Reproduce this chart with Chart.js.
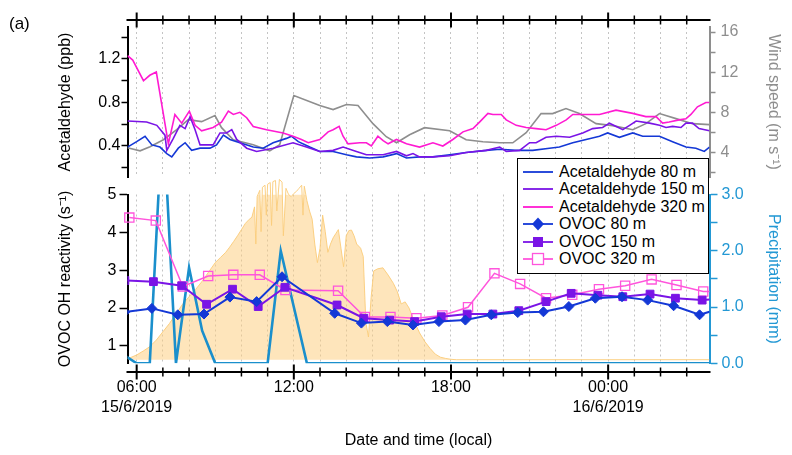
<!DOCTYPE html>
<html>
<head>
<meta charset="utf-8">
<script src="https://cdn.jsdelivr.net/npm/chart.js@4.4.1/dist/chart.umd.min.js"></script>
<style>
  body { margin: 0; background: #fff; }
  #wrap { position: relative; width: 792px; height: 455px; font-family: "Liberation Sans", Arial, sans-serif; }
  .layer { position: absolute; left: 0; top: 0; width: 792px; height: 455px; }
  #tag { position: absolute; left: 9px; top: 14px; font-size: 17px; }
  #legend { position: absolute; left: 517px; top: 158px; width: 190px; height: 110px; border: 1.5px solid #000;
            background: #fff; padding-top: 4px; box-sizing: content-box; }
  .row { height: 17.5px; display: flex; align-items: center; font-size: 16px; white-space: nowrap; }
  .row svg { margin-left: 5px; margin-right: 6px; }
</style>
</head>
<body>
<div id="wrap">
  <div class="layer"><canvas id="top"></canvas></div>
  <div class="layer"><canvas id="bottom"></canvas></div>
  <div id="tag">(a)</div>
  <div id="legend"></div>
</div>
<script>
// time is in hours from 00:00 on 15/6/2019
const xMin = 5.65, xMax = 27.87;
const hourTicks = [6, 7, 8, 9, 10, 11, 12, 13, 14, 15, 16, 17, 18, 19, 20, 21, 22, 23, 24, 25, 26, 27];
const timeLabels = { 6: ['06:00', '15/6/2019'], 12: '12:00', 18: '18:00', 24: ['00:00', '16/6/2019'] };

// tick positions (labels only on the major ones)
const acetTicks = [0.2, 0.4, 0.6, 0.8, 1.0, 1.2, 1.4];
const windTicks = [2, 4, 6, 8, 10, 12, 14, 16];
const ovocTicks = [1, 2, 3, 4, 5];
const rainTicks = [0, 0.5, 1.0, 1.5, 2.0, 2.5, 3.0];

// acetaldehyde (ppb), upper panel
const acet80T = [5.65, 6.00, 6.32, 6.58, 6.89, 7.15, 7.34, 7.59, 7.85, 8.10,
  8.42, 8.80, 9.05, 9.31, 9.56, 9.94, 10.45, 10.83, 11.21, 11.72,
  11.91, 12.17, 12.61, 12.99, 13.50, 14.01, 14.39, 14.90, 15.41, 15.92,
  16.30, 16.80, 17.31, 17.95, 18.58, 19.35, 19.86, 20.49, 21.12, 21.76,
  22.14, 22.65, 23.16, 23.67, 23.98, 24.43, 24.94, 25.32, 25.96, 26.46,
  26.97, 27.35, 27.67, 27.87];
const acet80 = [0.39, 0.44, 0.49, 0.41, 0.39, 0.33, 0.30, 0.38, 0.43, 0.36,
  0.38, 0.38, 0.41, 0.50, 0.46, 0.43, 0.39, 0.38, 0.43, 0.47,
  0.49, 0.44, 0.39, 0.35, 0.35, 0.32, 0.30, 0.29, 0.30, 0.33,
  0.29, 0.30, 0.30, 0.32, 0.34, 0.36, 0.37, 0.36, 0.36, 0.38,
  0.39, 0.43, 0.46, 0.49, 0.52, 0.48, 0.52, 0.49, 0.49, 0.44,
  0.39, 0.38, 0.35, 0.39];

const acet150T = [5.65, 6.38, 6.77, 7.08, 7.15, 7.40, 7.65, 7.85, 8.04, 8.23,
  8.42, 8.92, 9.18, 9.43, 9.63, 9.82, 10.20, 10.58, 11.21, 11.97,
  12.48, 12.99, 13.50, 13.88, 14.39, 14.77, 15.41, 15.92, 16.30, 16.55,
  16.80, 17.31, 17.95, 18.58, 19.35, 19.86, 20.11, 20.62, 21.00, 21.25,
  21.63, 22.02, 22.53, 23.03, 23.41, 23.79, 24.05, 24.31, 24.56, 24.82,
  25.07, 25.58, 25.96, 26.21, 26.46, 26.78, 26.97, 27.22, 27.47, 27.87];
const acet150 = [0.63, 0.62, 0.59, 0.50, 0.36, 0.47, 0.59, 0.56, 0.67, 0.55,
  0.41, 0.41, 0.52, 0.52, 0.55, 0.46, 0.38, 0.35, 0.38, 0.43,
  0.39, 0.35, 0.36, 0.39, 0.35, 0.32, 0.32, 0.35, 0.31, 0.33,
  0.30, 0.30, 0.31, 0.34, 0.36, 0.39, 0.35, 0.36, 0.43, 0.43,
  0.48, 0.49, 0.48, 0.52, 0.56, 0.57, 0.61, 0.58, 0.55, 0.59,
  0.63, 0.61, 0.59, 0.57, 0.58, 0.57, 0.61, 0.61, 0.56, 0.54];

const acet320T = [5.65, 5.85, 6.26, 6.50, 6.75, 7.21, 7.46, 7.72, 8.01, 8.23,
  8.48, 8.92, 9.24, 9.50, 9.69, 9.94, 10.20, 10.45, 10.96, 11.59,
  11.97, 12.29, 12.55, 12.99, 13.31, 13.50, 13.73, 13.88, 14.07, 14.52,
  14.77, 14.96, 15.21, 15.41, 15.60, 15.92, 16.30, 16.80, 17.31, 17.69,
  18.07, 18.46, 18.84, 19.09, 19.41, 19.60, 19.92, 20.11, 20.49, 20.87,
  21.25, 21.63, 22.02, 22.40, 22.65, 23.16, 23.67, 24.30, 24.94, 25.44,
  25.83, 26.08, 26.33, 26.71, 26.97, 27.16, 27.41, 27.73, 27.87];
const acet320 = [1.23, 1.19, 1.00, 1.05, 1.08, 0.42, 0.69, 0.61, 0.72, 0.59,
  0.54, 0.57, 0.62, 0.72, 0.69, 0.71, 0.66, 0.58, 0.55, 0.52,
  0.49, 0.46, 0.43, 0.46, 0.53, 0.55, 0.58, 0.49, 0.42, 0.43,
  0.43, 0.40, 0.49, 0.45, 0.42, 0.46, 0.42, 0.39, 0.43, 0.40,
  0.46, 0.53, 0.56, 0.62, 0.70, 0.69, 0.69, 0.64, 0.59, 0.57,
  0.56, 0.55, 0.59, 0.64, 0.69, 0.69, 0.69, 0.73, 0.70, 0.67,
  0.67, 0.61, 0.62, 0.64, 0.65, 0.69, 0.76, 0.80, 0.80];

// wind speed (m/s)
const windT = [5.65, 6.13, 6.51, 7.02, 7.53, 7.97, 8.48, 8.99, 9.24, 9.69,
  10.45, 11.08, 11.46, 12.00, 12.99, 13.50, 14.01, 14.45, 15.02, 15.53,
  15.92, 16.42, 16.99, 17.95, 18.58, 19.22, 19.86, 20.36, 20.87, 21.44,
  21.88, 22.39, 22.90, 23.54, 24.17, 24.94, 25.44, 25.96, 26.59, 27.22,
  27.87];
const wind = [4.5, 4.2, 4.6, 5.3, 6.3, 7.3, 7.1, 7.7, 6.5, 5.3,
  4.8, 4.2, 4.8, 9.7, 8.7, 8.3, 8.8, 8.7, 6.9, 5.6,
  5.0, 5.8, 6.5, 6.2, 5.3, 5.1, 5.0, 5.0, 6.0, 7.9,
  7.9, 8.4, 7.9, 6.9, 6.7, 6.3, 6.9, 7.9, 7.4, 6.9,
  6.8];

// OVOC OH reactivity (1/s), lower panel
const ovoc80T = [5.54, 6.58, 7.57, 8.57, 9.56, 10.58, 11.55, 13.56, 14.58, 15.57, 16.55, 17.54,
  18.55, 19.54, 20.55, 21.53, 22.50, 23.51, 24.53, 25.51, 26.50, 27.49, 28.49];
const ovoc80 = [1.89, 1.99, 1.82, 1.84, 2.29, 2.17, 2.83, 1.86, 1.60, 1.64, 1.55, 1.64,
  1.68, 1.82, 1.88, 1.90, 2.04, 2.26, 2.30, 2.21, 2.06, 1.82, 2.03];
const ovoc150T = [5.55, 6.64, 7.72, 8.67, 9.66, 10.64, 11.66, 13.65, 14.67, 15.66, 16.61, 17.63,
  18.62, 19.60, 20.59, 21.63, 22.59, 23.61, 24.56, 25.60, 26.57, 27.59, 28.59];
const ovoc150 = [2.73, 2.70, 2.59, 2.10, 2.50, 2.04, 2.55, 2.08, 1.73, 1.68, 1.64, 1.77,
  1.84, 1.84, 1.93, 2.17, 2.39, 2.34, 2.30, 2.37, 2.26, 2.21, 2.27];
const ovoc320T = [5.72, 6.73, 7.76, 8.73, 9.69, 10.70, 11.68, 13.69, 14.71, 15.69, 16.68, 17.67,
  18.65, 19.66, 20.64, 21.63, 22.63, 23.65, 24.65, 25.66, 26.61, 27.63, 28.63];
const ovoc320 = [4.40, 4.32, 2.57, 2.85, 2.88, 2.88, 2.48, 2.46, 1.76, 1.76, 1.73, 1.80,
  2.02, 2.92, 2.64, 2.26, 2.35, 2.50, 2.59, 2.76, 2.61, 2.44, 2.44];

// precipitation (mm)
const precipT = [5.5, 6.0, 6.5, 7.0, 7.5, 8.0, 8.5, 9.0, 11.0, 11.5, 12.0, 12.5, 28.0];
const precip = [0.15, 0, 0, 4.5, 0, 1.7, 0.58, 0, 0, 2.0, 1.0, 0, 0];

// solar radiation (shaded, no axis shown)
const radT = [5.65, 5.80, 6.00, 6.25, 6.50, 6.75, 7.00, 7.25, 7.50, 7.75,
  8.00, 8.25, 8.50, 8.75, 9.00, 9.20, 9.40, 9.55, 9.70, 9.85,
  10.00, 10.15, 10.30, 10.40, 10.50, 10.55, 10.60, 10.70, 10.75, 10.80,
  10.90, 10.95, 11.00, 11.10, 11.15, 11.20, 11.30, 11.35, 11.45, 11.55,
  11.60, 11.70, 11.80, 11.90, 12.00, 12.10, 12.20, 12.30, 12.35, 12.40,
  12.50, 12.60, 12.70, 12.80, 12.90, 13.00, 13.10, 13.20, 13.30, 13.40,
  13.50, 13.60, 13.70, 13.80, 13.90, 14.00, 14.10, 14.20, 14.30, 14.40,
  14.55, 14.65, 14.75, 14.85, 14.95, 15.05, 15.20, 15.40, 15.60, 15.80,
  15.95, 16.10, 16.25, 16.40, 16.60, 16.80, 17.00, 17.20, 17.40, 17.60,
  17.80, 18.00, 18.20, 27.87];
const rad = [5, 12, 23, 42, 63, 95, 135, 175, 222, 268,
  305, 340, 380, 425, 470, 495, 520, 545, 572, 600,
  630, 660, 680, 690, 740, 560, 790, 820, 620, 835,
  845, 700, 850, 858, 650, 862, 868, 720, 873, 860,
  600, 830, 800, 790, 805, 815, 830, 845, 700, 840,
  770, 720, 680, 560, 470, 540, 700, 620, 520, 560,
  590, 610, 630, 540, 450, 600, 625, 628, 600, 560,
  540, 500, 180, 110, 300, 430, 440, 445, 410, 370,
  330, 270, 280, 250, 185, 130, 88, 55, 27, 12,
  6, 2, 0, 0];

const C80 = '#1438d6', C150 = '#7a14e6', C320 = '#ff1ad2', C320o = '#ff55dc';
const CWIND = '#8e8e8e', CRAIN = '#1a8fcc', CRAINAX = '#2398d4';

const pts = (t, v) => t.map((x, i) => ({ x: x, y: v[i] }));

Chart.defaults.font.family = '"Liberation Sans", Arial, sans-serif';
Chart.defaults.font.size = 16;
Chart.defaults.color = '#000';

// Igor-style x axis, offset from the plot with ticks crossing the line
const frameAxis = {
  id: 'frameAxis',
  afterDraw(chart, args, opts) {
    const { ctx, chartArea } = chart;
    const xs = chart.scales.x;
    const y0 = opts.y;
    ctx.save();
    ctx.strokeStyle = '#000';
    ctx.lineWidth = 2;
    ctx.beginPath();
    ctx.moveTo(chartArea.left - 1, y0);
    ctx.lineTo(chartArea.right + 1, y0);
    ctx.stroke();
    hourTicks.forEach(h => {
      const px = xs.getPixelForValue(h);
      const major = h % 6 === 0;
      const len = major ? 7.5 : 4.5;
      ctx.lineWidth = major ? 2 : 1.5;
      ctx.beginPath();
      ctx.moveTo(px, y0 - len);
      ctx.lineTo(px, y0 + len);
      ctx.stroke();
    });
    ctx.restore();
  }
};

const isMult = (v, s) => Math.abs(v / s - Math.round(v / s)) < 1e-6;

function yAxis(pos, min, max, tickVals, color, title, titlePad, fmt, tickLen, pad) {
  return {
    axis: 'y', type: 'linear', position: pos, min: min, max: max,
    afterFit: s => { s.width = pos === 'left' ? 127.5 : 82.5; },
    afterBuildTicks: s => { s.ticks = tickVals.map(v => ({ value: v })); },
    border: { display: true, color: color, width: 2 },
    grid: { drawOnChartArea: false, tickLength: tickLen, tickColor: color, tickWidth: 1.5 },
    ticks: { autoSkip: false, color: color, padding: pad, callback: fmt },
    title: { display: true, text: title, color: color, padding: { top: titlePad, bottom: 0 } }
  };
}

function xAxis(pos, height, showLabels) {
  return {
    axis: 'x', type: 'linear', position: pos, min: xMin, max: xMax,
    afterFit: s => { s.height = height; },
    afterBuildTicks: s => { s.ticks = hourTicks.map(v => ({ value: v })); },
    border: { display: false, dash: [2, 3] },
    grid: { color: '#c4c4c4', lineWidth: 1, drawTicks: false },
    ticks: {
      display: showLabels, autoSkip: false, maxRotation: 0, minRotation: 0, padding: 15,
      callback: v => timeLabels[v] || ''
    },
    title: { display: showLabels, text: 'Date and time (local)', padding: { top: 0, bottom: 5 } }
  };
}

new Chart(document.getElementById('top'), {
  type: 'line',
  data: {
    datasets: [
      { label: 'Acetaldehyde 320 m', data: pts(acet320T, acet320), borderColor: C320, borderWidth: 1.6, yAxisID: 'acet' },
      { label: 'Acetaldehyde 150 m', data: pts(acet150T, acet150), borderColor: C150, borderWidth: 1.6, yAxisID: 'acet' },
      { label: 'Acetaldehyde 80 m', data: pts(acet80T, acet80), borderColor: C80, borderWidth: 1.6, yAxisID: 'acet' },
      { label: 'Wind speed', data: pts(windT, wind), borderColor: CWIND, borderWidth: 1.6, yAxisID: 'wind' }
    ]
  },
  options: {
    responsive: true, maintainAspectRatio: false, animation: false,
    layout: { padding: { left: 0, right: 0, top: 0, bottom: 278 } },
    elements: { point: { radius: 0 }, line: { tension: 0 } },
    plugins: { legend: { display: false }, tooltip: { enabled: false }, frameAxis: { y: 20 } },
    scales: {
      x: xAxis('top', 27, false),
      acet: yAxis('left', 0.115, 1.494, acetTicks, '#000', 'Acetaldehyde (ppb)', 56,
        v => isMult(v, 0.4) ? v.toFixed(1) : '', 6, 1),
      wind: yAxis('right', 1.6, 16.5, windTicks, CWIND, 'Wind speed (m s\u207B\u00B9)', 9,
        v => isMult(v, 4) ? String(Math.round(v)) : '', 6, 5)
    }
  },
  plugins: [frameAxis]
});

new Chart(document.getElementById('bottom'), {
  type: 'line',
  data: {
    datasets: [
      { label: 'OVOC 80 m', data: pts(ovoc80T, ovoc80), borderColor: C80, backgroundColor: C80, borderWidth: 2,
        pointStyle: 'rectRot', pointRadius: 5, pointBorderWidth: 1, yAxisID: 'ovoc' },
      { label: 'OVOC 150 m', data: pts(ovoc150T, ovoc150), borderColor: C150, backgroundColor: C150, borderWidth: 2,
        pointStyle: 'rect', pointRadius: 5.5, pointBorderWidth: 1, yAxisID: 'ovoc' },
      { label: 'OVOC 320 m', data: pts(ovoc320T, ovoc320), borderColor: C320o, backgroundColor: 'rgba(255,255,255,0)', borderWidth: 1.5,
        pointStyle: 'rect', pointRadius: 6.5, pointBorderWidth: 1.3, yAxisID: 'ovoc',
        clip: { left: 8, top: 0, right: 0, bottom: 0 } },
      { label: 'Precipitation', data: pts(precipT, precip), borderColor: CRAIN, borderWidth: 2.6, pointRadius: 0, yAxisID: 'rain' },
      { label: 'Radiation', data: pts(radT, rad), borderColor: 'rgba(251, 205, 125, 0.95)', borderWidth: 1,
        backgroundColor: 'rgba(253, 204, 120, 0.5)', fill: 'origin', pointRadius: 0, yAxisID: 'rad',
        clip: { left: 0, top: 20, right: 0, bottom: 0 } }
    ]
  },
  options: {
    responsive: true, maintainAspectRatio: false, animation: false,
    layout: { padding: { left: 0, right: 0, top: 194.5, bottom: 0 } },
    elements: { line: { tension: 0 } },
    plugins: { legend: { display: false }, tooltip: { enabled: false }, frameAxis: { y: 372 } },
    scales: {
      x: xAxis('bottom', 91.7, true),
      ovoc: yAxis('left', 0.533, 5.013, ovocTicks, '#000', 'OVOC OH reactivity (s\u207B\u00B9)', 56,
        v => String(Math.round(v)), 8, 3),
      rain: yAxis('right', 0, 3.0, rainTicks, CRAINAX, 'Precipitation (mm)', 9,
        v => isMult(v, 1) ? v.toFixed(1) : '', 8, 4),
      rad: { axis: 'y', type: 'linear', position: 'left', display: false, min: -17.4, max: 800 }
    }
  },
  plugins: [frameAxis]
});

// legend box shared by both panels
const legendRows = [
  { label: 'Acetaldehyde 80 m', color: C80, marker: null },
  { label: 'Acetaldehyde 150 m', color: C150, marker: null },
  { label: 'Acetaldehyde 320 m', color: C320, marker: null },
  { label: 'OVOC 80 m', color: C80, marker: 'diamond' },
  { label: 'OVOC 150 m', color: C150, marker: 'square' },
  { label: 'OVOC 320 m', color: C320o, marker: 'open' }
];
const legend = document.getElementById('legend');
legendRows.forEach(r => {
  let m = '';
  if (r.marker === 'diamond') m = `<polygon points="15,1.5 21,8 15,14.5 9,8" fill="${r.color}"/>`;
  if (r.marker === 'square') m = `<rect x="10" y="3" width="10" height="10" fill="${r.color}"/>`;
  if (r.marker === 'open') m = `<rect x="9.5" y="2.5" width="11" height="11" fill="#fff" stroke="${r.color}" stroke-width="1.3"/>`;
  const row = document.createElement('div');
  row.className = 'row';
  row.innerHTML = `<svg width="30" height="16"><line x1="0" y1="8" x2="30" y2="8" stroke="${r.color}" stroke-width="1.8"/>${m}</svg>${r.label}`;
  legend.appendChild(row);
});
</script>
</body>
</html>
